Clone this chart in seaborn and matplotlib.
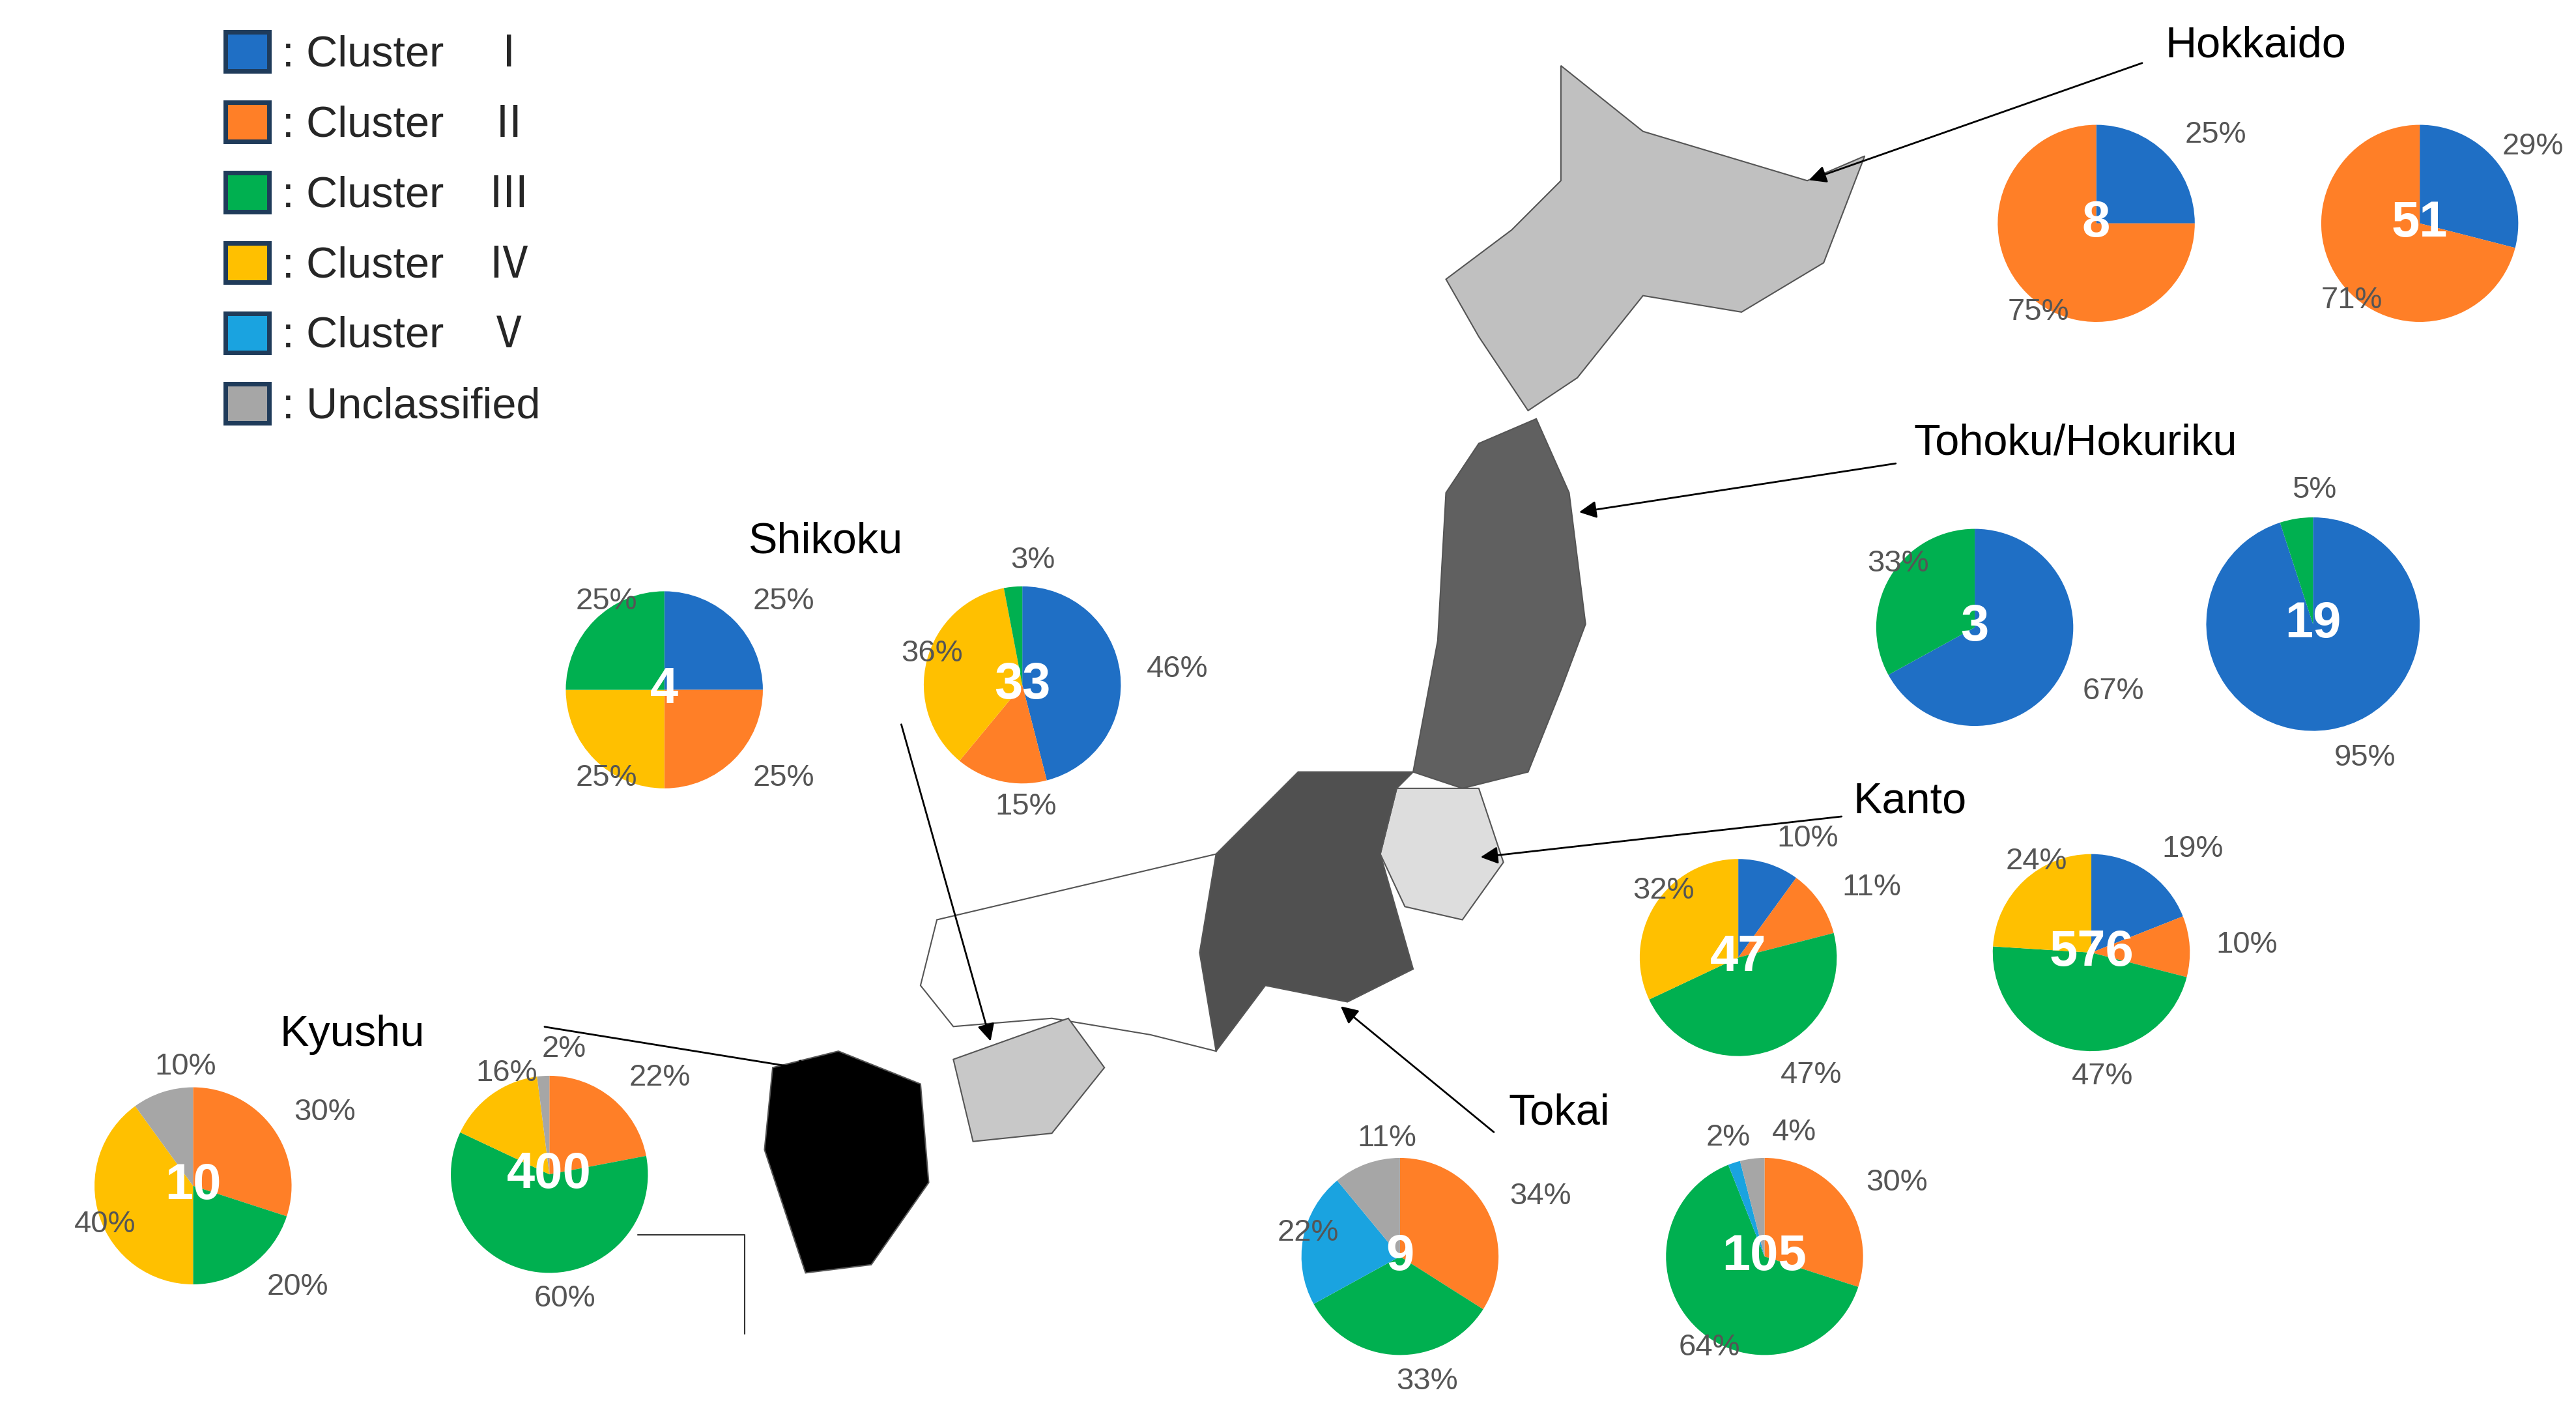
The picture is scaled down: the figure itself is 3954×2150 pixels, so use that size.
import matplotlib
matplotlib.use("Agg")
import matplotlib.pyplot as plt
import seaborn as sns
from matplotlib.patches import Patch, Polygon

sns.set_theme(style="white")
plt.rcParams['font.family'] = ['Liberation Sans', 'DejaVu Sans', 'Noto Sans CJK JP']

# ---- data ----
cluster_names = ["Cluster　Ⅰ", "Cluster　Ⅱ", "Cluster　Ⅲ", "Cluster　Ⅳ", "Cluster　Ⅴ", "Unclassified"]
cluster_colors = ["#1F6FC5", "#FF7F27", "#00B050", "#FFC000", "#1AA3E0", "#A6A6A6"]

regions = ["Hokkaido", "Tohoku/Hokuriku", "Kanto", "Tokai", "Shikoku", "Kyushu"]
totals = [[8, 51], [3, 19], [47, 576], [9, 105], [4, 33], [10, 400]]
# per-pie cluster indices (clockwise from 12 o'clock) and percentages
hok_idx = [0, 1];        hok_a = [25, 75];         hok_b = [29, 71]
toh_idx = [0, 2];        toh_a = [67, 33];         toh_b = [95, 5]
kan_idx = [0, 1, 2, 3];  kan_a = [10, 11, 47, 32]; kan_b = [19, 10, 47, 24]
tok_idx = [1, 2, 4, 5];  tok_a = [34, 33, 22, 11]; tok_b = [30, 64, 2, 4]
shi_idx = [0, 1, 3, 2];  shi_a = [25, 25, 25, 25]; shi_b = [46, 15, 36, 3]
kyu_idx = [1, 2, 3, 5];  kyu_a = [30, 20, 40, 10]; kyu_b = [22, 60, 16, 2]

pie_sets = [(hok_idx, hok_a, hok_b), (toh_idx, toh_a, toh_b), (kan_idx, kan_a, kan_b),
            (tok_idx, tok_a, tok_b), (shi_idx, shi_a, shi_b), (kyu_idx, kyu_a, kyu_b)]

# ---- layout (reference pixel frame, y down) ----
W, H = 1568, 853
centers = [[(1276, 136), (1473, 136)], [(1202, 382), (1408, 380)], [(1058, 583), (1273, 580)],
           [(852, 765), (1074, 765)], [(404, 420), (622, 417)], [(117, 722), (334, 715)]]
radii = [[60, 60], [60, 65], [60, 60], [60, 60], [60, 60], [60, 60]]
region_text = [(1318, 28), (1165, 270), (1128, 488), (918, 678), (455, 330), (170, 630)]
arrows = [((1305, 38), (1100, 110)), ((1155, 282), (960, 312)), ((1122, 497), (900, 522)),
          ((910, 690), (815, 612)), ((548, 440), (603, 635)), ((330, 625), (497, 652))]
nudges = {(3, 1, 2): (-12, 0), (3, 1, 3): (14, 0), (0, 1, 0): (-10, 0)}

fig = plt.figure(figsize=(39.55, 21.5), dpi=100)
ax = fig.add_axes([0, 0, 1, 1])

def Y(y):
    return H - y

shapes = [
    ([(950, 40), (1000, 80), (1100, 110), (1135, 95), (1110, 160), (1060, 190), (1000, 180),
      (960, 230), (930, 250), (900, 205), (880, 170), (920, 140), (950, 110)], "#C0C0C0"),
    ([(900, 270), (935, 255), (955, 300), (965, 380), (950, 420), (930, 470), (890, 480),
      (860, 470), (875, 390), (880, 300)], "#606060"),
    ([(850, 480), (900, 480), (915, 525), (890, 560), (855, 552), (840, 520)], "#DDDDDD"),
    ([(790, 470), (860, 470), (850, 480), (840, 520), (860, 590), (820, 610), (770, 600),
      (740, 640), (730, 580), (740, 520), (760, 500)], "#505050"),
    ([(570, 560), (740, 520), (730, 580), (740, 640), (700, 630), (640, 620), (580, 625), (560, 600)], "white"),
    ([(580, 645), (650, 620), (672, 650), (640, 690), (592, 695)], "#C8C8C8"),
    ([(470, 650), (510, 640), (560, 660), (565, 720), (530, 770), (490, 775), (465, 700)], "black"),
]
for pts, col in shapes:
    ax.add_patch(Polygon([(x, Y(y)) for x, y in pts], closed=True, facecolor=col,
                         edgecolor="#555555", lw=1.5, zorder=1))
ax.plot([388, 453, 453], [Y(752), Y(752), Y(812)], color="#333333", lw=1.5)

for r, (idx, a, b) in enumerate(pie_sets):
    for k, vals in enumerate([a, b]):
        cx, cy = centers[r][k]
        cols = [cluster_colors[i] for i in idx]
        labs = [f"{v}%" for v in vals]
        _, texts = ax.pie(vals, colors=cols, startangle=90, counterclock=False, center=(cx, Y(cy)),
                          radius=radii[r][k], labels=labs, labeldistance=1.27, frame=True,
                          textprops=dict(fontsize=34, color="#555555"),
                          wedgeprops=dict(linewidth=0))
        for s, t in enumerate(texts):
            if (r, k, s) in nudges:
                dx, dy = nudges[(r, k, s)]
                x, y = t.get_position()
                t.set_position((x + dx, y - dy))
        ax.text(cx, Y(cy), str(totals[r][k]), ha="center", va="center", fontsize=56,
                fontweight="bold", color="white", zorder=5)
    tx, ty = region_text[r]
    ax.text(tx, Y(ty), regions[r], ha="left", va="center", fontsize=48, color="black")
    (x0, y0), (x1, y1) = arrows[r]
    ax.annotate("", xy=(x1, Y(y1)), xytext=(x0, Y(y0)),
                arrowprops=dict(arrowstyle="-|>", color="black", lw=2, mutation_scale=40))

ax.set_xlim(0, W)
ax.set_ylim(0, H)
ax.set_aspect('equal')
ax.axis('off')

handles = [Patch(facecolor=c, edgecolor="#1F3B5A", linewidth=5) for c in cluster_colors]
ax.legend(handles, [": " + n for n in cluster_names], loc="upper left",
          bbox_to_anchor=(0.072, 1.005), frameon=False, handlelength=1.0,
          handleheight=1.0, handletextpad=0.3, labelspacing=0.62,
          prop=dict(family=['Liberation Sans', 'Noto Sans CJK JP'], size=48))

fig.savefig("out.png", dpi=100)
